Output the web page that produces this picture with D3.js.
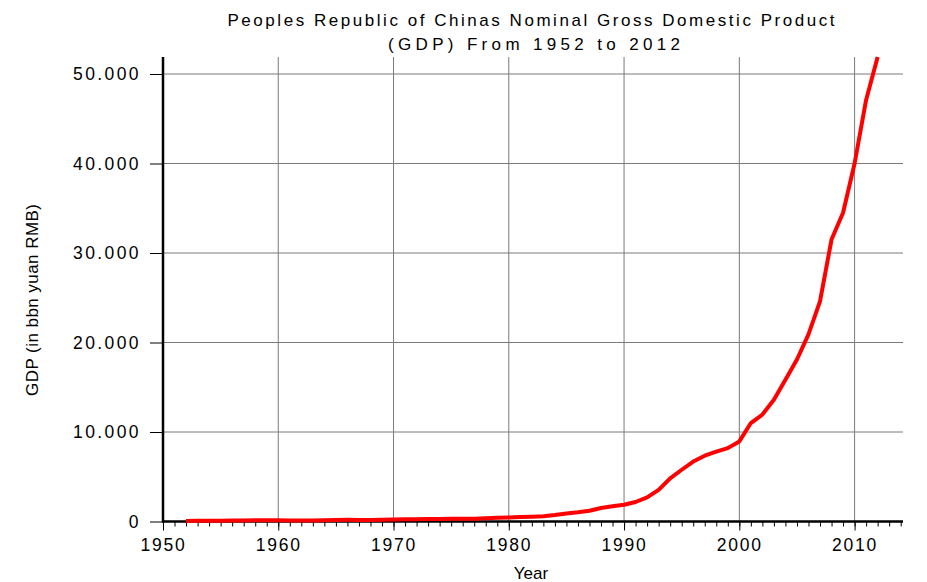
<!DOCTYPE html>
<html>
<head>
<meta charset="utf-8">
<script src="https://cdn.jsdelivr.net/npm/d3@7"></script>
<style>
  body { margin: 0; background: #fff; }
  text { font-family: "Liberation Sans", Arial, sans-serif; fill: #000; }
</style>
</head>
<body>
<div id="chart"></div>
<script>
// GDP in bn yuan RMB
const years = d3.range(1952, 2013);
const gdp = [
    68, 82, 86, 91, 103, 107, 131, 144, 146, 122,
    115, 123, 145, 172, 187, 177, 172, 194, 225, 243,
    252, 272, 279, 300, 294, 320, 365, 406, 455, 489,
    532, 596, 721, 902, 1028, 1206, 1504, 1699, 1870, 2180,
    2690, 3530, 4820, 5780, 6700, 7350, 7800, 8200, 8950, 11000,
    11950, 13600, 15850, 18100, 20900, 24600, 31500, 34500, 40000, 47100,
    51900
];
const yTicks = [0, 10000, 20000, 30000, 40000, 50000];
const xTicks = [1950, 1960, 1970, 1980, 1990, 2000, 2010];
const xGrid = [1960, 1970, 1980, 1990, 2000, 2010];
const titleLines = ["Peoples Republic of Chinas Nominal Gross Domestic Product", "(GDP) From 1952 to 2012"];

const data = years.map((y, i) => ({ year: y, value: gdp[i] }));

const width = 927, height = 582;
const margin = { top: 57, right: 24, left: 163 };
const innerW = width - margin.left - margin.right;
const innerH = 464.5;

const svg = d3.select("#chart").append("svg")
    .attr("width", width)
    .attr("height", height);

const g = svg.append("g")
    .attr("transform", "translate(" + margin.left + "," + margin.top + ")");

// Scales
const x = d3.scaleLinear().domain([1950, 2014.2]).range([0, innerW]);
const y = d3.scaleLinear().domain([0, d3.max(gdp)]).range([innerH, 0]);

// Grid lines
g.selectAll(".hgrid").data(yTicks.filter(d => d > 0)).enter().append("line")
    .attr("x1", 0).attr("x2", innerW)
    .attr("y1", d => y(d)).attr("y2", d => y(d))
    .attr("stroke", "#7a7a7a").attr("stroke-width", 1);

g.selectAll(".vgrid").data(xGrid).enter().append("line")
    .attr("x1", d => x(d)).attr("x2", d => x(d))
    .attr("y1", 0).attr("y2", innerH)
    .attr("stroke", "#7a7a7a").attr("stroke-width", 1);

// Y axis
const yAxis = d3.axisLeft(y)
    .tickValues(yTicks)
    .tickSize(13)
    .tickPadding(9)
    .tickFormat(d => d === 0 ? "0" : d3.format(",")(d).replace(",", "."));

const yG = g.append("g").call(yAxis);
yG.select(".domain").remove();
yG.selectAll("text")
    .style("font-size", "17.5px")
    .style("letter-spacing", "2.4px")
    .style("font-family", "Liberation Sans, Arial, sans-serif");

g.append("line")
    .attr("x1", 0).attr("x2", 0)
    .attr("y1", 0).attr("y2", innerH + 1)
    .attr("stroke", "#000").attr("stroke-width", 2.5);

// X axis: minor ticks every year
const xMinor = d3.axisBottom(x)
    .tickValues(d3.range(1950, 2015))
    .tickSize(5)
    .tickFormat("");
const xMinorG = g.append("g").attr("transform", "translate(0," + innerH + ")").call(xMinor);
xMinorG.select(".domain").remove();

const xAxis = d3.axisBottom(x)
    .tickValues(xTicks)
    .tickSize(9)
    .tickPadding(8)
    .tickFormat(d3.format("d"));
const xG = g.append("g").attr("transform", "translate(0," + innerH + ")").call(xAxis);
xG.select(".domain").remove();
xG.selectAll("text")
    .style("font-size", "17.5px")
    .style("letter-spacing", "1.8px")
    .style("font-family", "Liberation Sans, Arial, sans-serif");

g.append("line")
    .attr("x1", -1).attr("x2", innerW)
    .attr("y1", innerH).attr("y2", innerH)
    .attr("stroke", "#000").attr("stroke-width", 2.5);

// Line
const line = d3.line()
    .x(d => x(d.year))
    .y(d => y(d.value));

g.append("path")
    .datum(data)
    .attr("fill", "none")
    .attr("stroke", "#ff0000")
    .attr("stroke-width", 4)
    .attr("stroke-linejoin", "round")
    .attr("d", line);

// Title
svg.append("text")
    .attr("x", 531).attr("y", 26)
    .attr("text-anchor", "middle")
    .attr("textLength", 607)
    .attr("lengthAdjust", "spacing")
    .style("font-size", "17px")
    .text(titleLines[0]);

svg.append("text")
    .attr("x", 534).attr("y", 50)
    .attr("text-anchor", "middle")
    .attr("textLength", 292)
    .attr("lengthAdjust", "spacing")
    .style("font-size", "17px")
    .text(titleLines[1]);

// Axis labels
svg.append("text")
    .attr("x", 531).attr("y", 579)
    .attr("text-anchor", "middle")
    .style("font-size", "17px")
    .text("Year");

svg.append("text")
    .attr("transform", "translate(38,300) rotate(-90)")
    .attr("text-anchor", "middle")
    .attr("textLength", 192)
    .attr("lengthAdjust", "spacing")
    .style("font-size", "17px")
    .text("GDP (in bbn yuan RMB)");
</script>
</body>
</html>
